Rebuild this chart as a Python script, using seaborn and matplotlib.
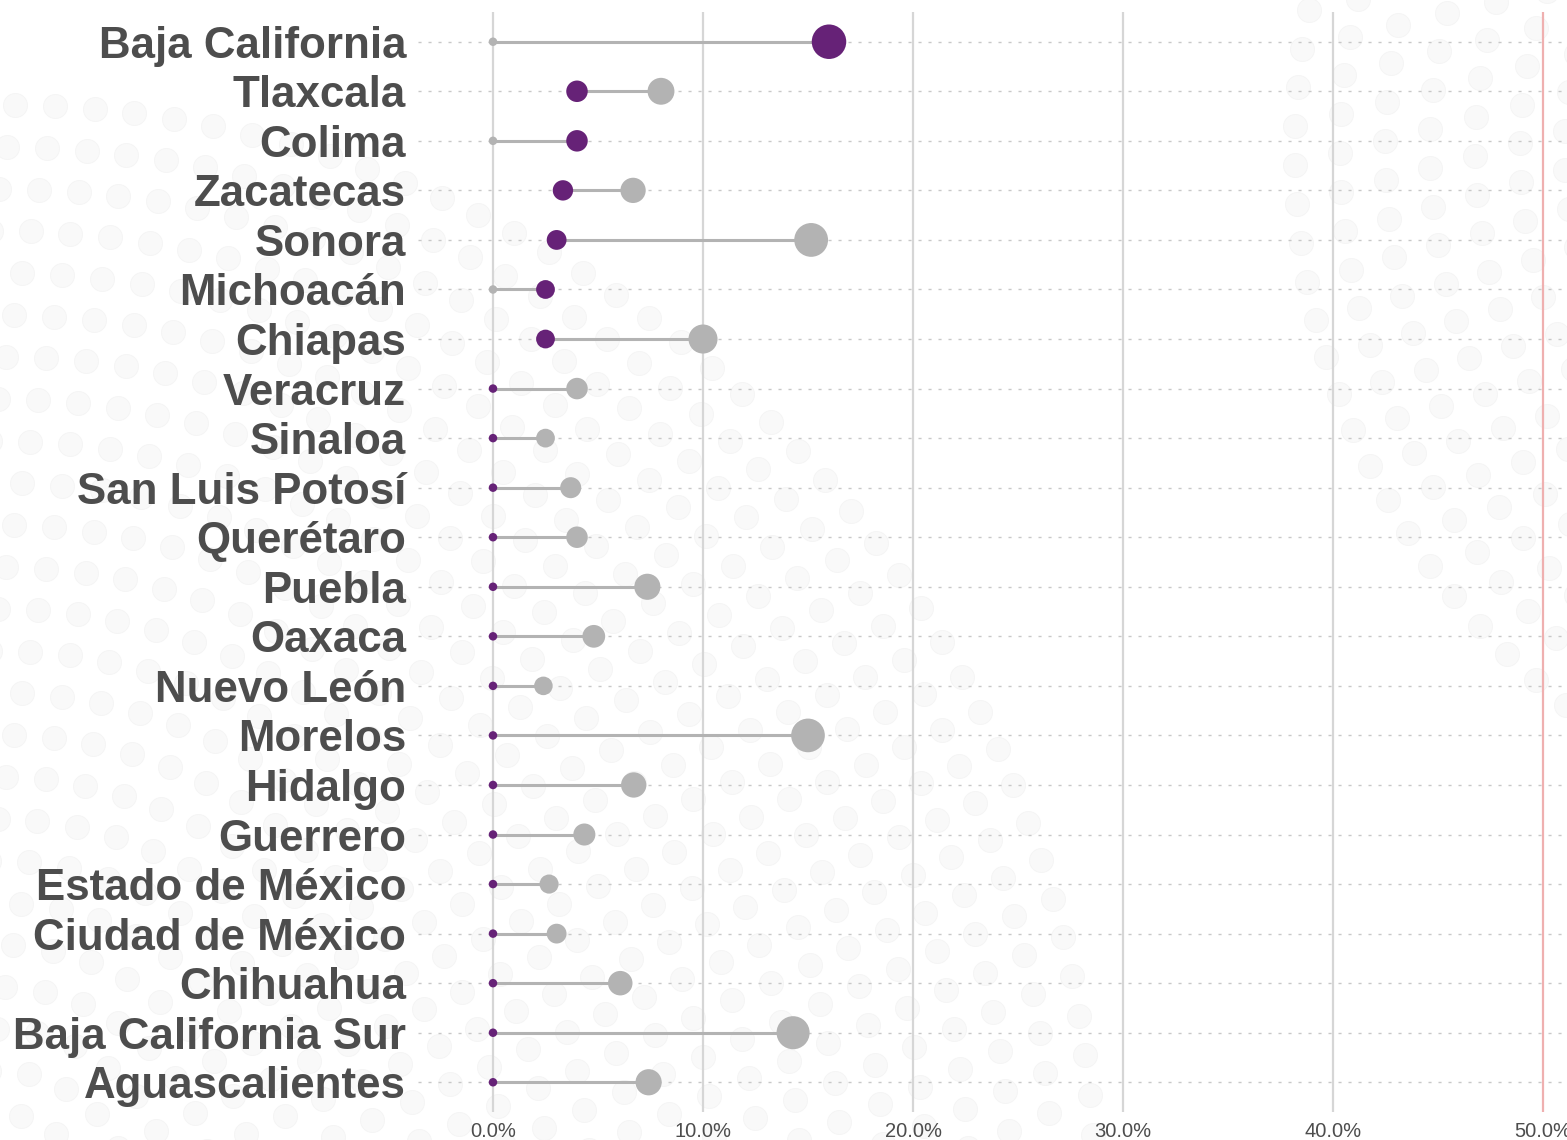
import numpy as np
import pandas as pd
import matplotlib
matplotlib.use("Agg")
import matplotlib.pyplot as plt
import seaborn as sns

# ---------------- data ----------------
states = ["Baja California", "Tlaxcala", "Colima", "Zacatecas", "Sonora",
          "Michoacán", "Chiapas", "Veracruz", "Sinaloa", "San Luis Potosí",
          "Querétaro", "Puebla", "Oaxaca", "Nuevo León", "Morelos", "Hidalgo",
          "Guerrero", "Estado de México", "Ciudad de México", "Chihuahua",
          "Baja California Sur", "Aguascalientes"]
purple_vals = [16.0, 4.0, 4.0, 3.33, 3.03, 2.5, 2.5, 0, 0, 0,
               0, 0, 0, 0, 0, 0, 0, 0, 0, 0, 0, 0]
gray_vals = [0, 8.0, 0, 6.67, 15.15, 0, 10.0, 4.0, 2.5, 3.7,
             4.0, 7.35, 4.8, 2.4, 15.0, 6.7, 4.35, 2.67, 3.03, 6.06,
             14.29, 7.41]
xticks = [0, 10, 20, 30, 40, 50]
xtick_labels = ["0.0%", "10.0%", "20.0%", "30.0%", "40.0%", "50.0%"]

PURPLE = "#662277"
GRAY = "#b3b3b3"
TXT = "#4d4d4d"

sns.set_theme(style="white")
plt.rcParams["font.family"] = ["Liberation Sans", "DejaVu Sans"]

W, H = 1567, 1140
fig = plt.figure(figsize=(W / 100, H / 100), dpi=100)

# ---------------- decorative background dots ----------------
bg = fig.add_axes([0, 0, 1, 1], zorder=0)
bg.set_xlim(0, W)
bg.set_ylim(H, 0)
bg.axis("off")
bx, by = [], []
cx, cy = 0, 1200
for k, r in enumerate(np.arange(1095, 20, -42)):
    step = 40.0 / r
    off = (k % 2) * 0.5 * step
    for a in np.arange(-0.05 + off, np.pi / 2 + 0.1, step):
        x, y = cx + r * np.cos(a), cy - r * np.sin(a)
        if -15 <= x <= W + 15 and -15 <= y <= H + 15:
            bx.append(x); by.append(y)
cx2, cy2 = 2000, 150
for k, r in enumerate(np.arange(705, 380, -45)):
    step = 39.0 / r
    off = (k % 2) * 0.5 * step
    for a in np.arange(np.pi / 2 + off, 3 * np.pi / 2, step):
        x, y = cx2 + r * np.cos(a), cy2 + r * np.sin(a)
        if -15 <= x <= W + 15 and -15 <= y <= H + 15:
            bx.append(x); by.append(y)
bg.scatter(bx, by, s=(24 * 0.72) ** 2, facecolor="#f9f9f9",
           edgecolor="#f4f4f4", linewidth=0.6)

# ---------------- main chart ----------------
ax = fig.add_axes([418 / W, 28 / H, 1 - 418 / W, 1100 / H], zorder=1)
ax.patch.set_alpha(0)

ypos = np.arange(len(states))
df = pd.DataFrame({"state": states, "y": ypos,
                   "purple": purple_vals, "gray": gray_vals})

vmax = max(max(purple_vals), max(gray_vals))
def area(v):
    d_px = 8.5 + (34.5 - 8.5) * np.sqrt(np.asarray(v, float) / vmax)
    return (d_px * 0.72) ** 2

df["s_purple"] = area(df["purple"])
df["s_gray"] = area(df["gray"])
smin, smax = area(0), area(vmax)

# connecting segments
ax.hlines(df["y"], df[["purple", "gray"]].min(axis=1),
          df[["purple", "gray"]].max(axis=1), color=GRAY, lw=2.2, zorder=3)

sns.scatterplot(data=df, x="gray", y="y", size="s_gray", sizes=(smin, smax),
                size_norm=(smin, smax), color=GRAY, edgecolor="none",
                linewidth=0, legend=False, ax=ax, zorder=4)
sns.scatterplot(data=df, x="purple", y="y", size="s_purple", sizes=(smin, smax),
                size_norm=(smin, smax), color=PURPLE, edgecolor="none",
                linewidth=0, legend=False, ax=ax, zorder=5)

x_left = (418 - 493) / 21.0
x_right = (W - 493) / 21.0
ax.set_xlim(x_left, x_right)
ax.set_ylim(len(states) - 1 + 0.6, -0.6)

ax.set_xticks(xticks)
ax.set_xticklabels(xtick_labels)
ax.set_yticks(ypos)
ax.set_yticklabels(states)
ax.set_xlabel("")
ax.set_ylabel("")

# grid lines
for xv in xticks[:-1]:
    ax.axvline(xv, color="#d6d6d6", lw=1.6, zorder=1)
ax.axvline(xticks[-1], color="#efb0b0", lw=1.6, zorder=1)
for yv in ypos:
    ax.axhline(yv, color="#c8c8c8", lw=1.0, linestyle=(0, (2.2, 5.0)), zorder=0.5)

for sp in ax.spines.values():
    sp.set_visible(False)
ax.tick_params(axis="both", length=0)
ax.tick_params(axis="x", pad=7.5, labelsize=14.5, labelcolor=TXT)
ax.tick_params(axis="y", pad=8.5, labelsize=31.6, labelcolor=TXT)
for lab in ax.get_yticklabels():
    lab.set_fontweight("bold")

fig.savefig("out.png", dpi=100)
